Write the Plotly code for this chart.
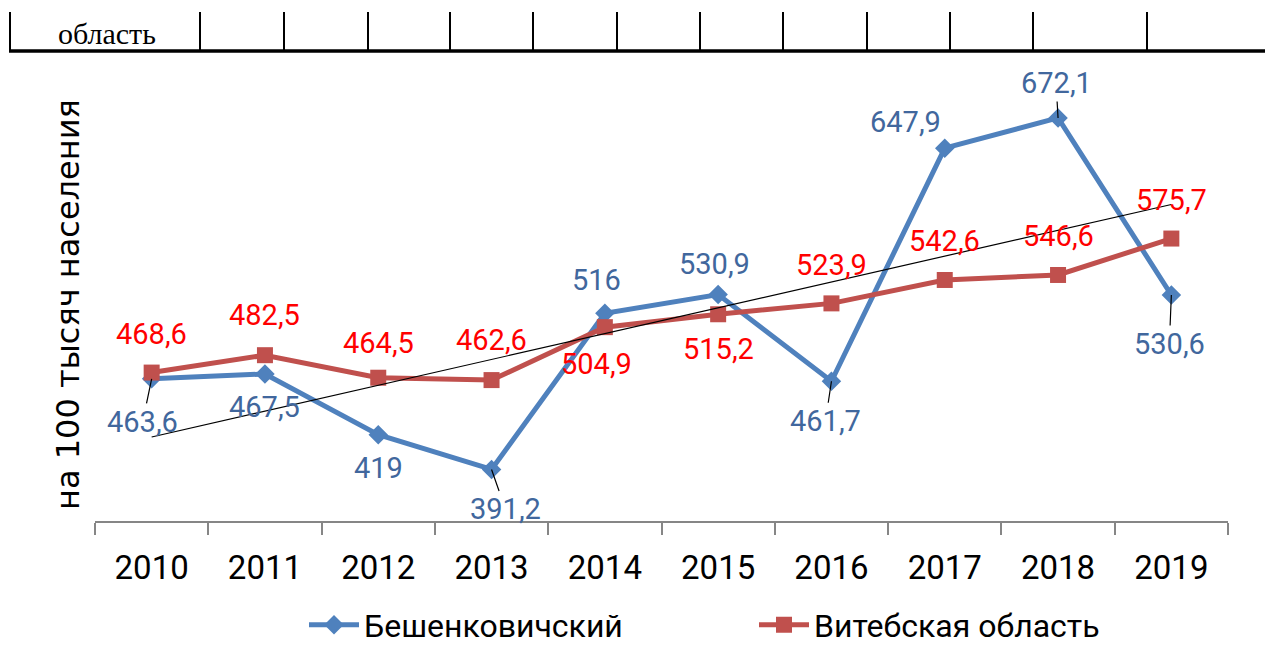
import numpy as np
import plotly.graph_objects as go

years = ["2010", "2011", "2012", "2013", "2014", "2015", "2016", "2017", "2018", "2019"]
beshenk = [463.6, 467.5, 419, 391.2, 516, 530.9, 461.7, 647.9, 672.1, 530.6]
vitebsk = [468.6, 482.5, 464.5, 462.6, 504.9, 515.2, 523.9, 542.6, 546.6, 575.7]
series_names = ["Бешенковичский", "Витебская область"]
y_title = "на 100 тысяч населения"
header_text = "область"

# page body adds an 8px offset; work in window pixels and convert
OFF = 8
W, H = 1273 - OFF, 645 - OFF
L, R, T, B = 95 - OFF, 1228 - OFF, 83 - OFF, 521 - OFF

def fmt(v):
    s = ("%.1f" % v).rstrip("0").rstrip(".")
    return s.replace(".", ",")

def px(x):  # window pixel -> paper x
    return (x - OFF - L) / (R - L)

def py(y):  # window pixel -> paper y
    return (B - (y - OFF)) / (B - T)

FONT = "Liberation Sans Narrow, Arial Narrow, Roboto, sans-serif"
BLUE = "#4F81BD"
RED = "#C0504D"
BLUE_TXT = "#41679D"
RED_TXT = "#FF0000"

fig = go.Figure()
fig.add_trace(go.Scatter(x=years, y=beshenk, name=series_names[0], mode="lines+markers",
                         line=dict(color=BLUE, width=5),
                         marker=dict(symbol="diamond", size=15, color=BLUE)))
fig.add_trace(go.Scatter(x=years, y=vitebsk, name=series_names[1], mode="lines+markers",
                         line=dict(color=RED, width=5),
                         marker=dict(symbol="square", size=16, color=RED)))

# linear trend of first series
idx = np.arange(len(years))
k, b0 = np.polyfit(idx, beshenk, 1)
fig.add_trace(go.Scatter(x=years, y=k * idx + b0, mode="lines", showlegend=False,
                         line=dict(color="black", width=1.2), hoverinfo="skip"))

# label offsets (pixels): (dx, dy) with dy downward positive, leader flag
blue_off = [(-9, 43, True), (0, 33, False), (0, 33, False), (14, 40, True), (-8, -33, False),
            (-4, -31, False), (-6, 40, True), (-39, -26, False), (-2, -35, True), (-2, 49, True)]
red_off = [(0, -39, False), (0, -40, False), (0, -35, False), (0, -40, False), (-8, 37, False),
           (0, 35, False), (0, -38, False), (0, -39, False), (0, -39, False), (0, -39, False)]

ann = []
for vals, offs, col in ((beshenk, blue_off, BLUE_TXT), (vitebsk, red_off, RED_TXT)):
    for i, (v, (dx, dy, lead)) in enumerate(zip(vals, offs)):
        if lead:
            ann.append(dict(x=i, y=v, xref="x", yref="y", text=fmt(v), showarrow=True,
                            arrowhead=0, arrowwidth=1.2,
                            arrowcolor="black", ax=dx, ay=dy, standoff=0,
                            font=dict(family=FONT, size=29, color=col)))
        else:
            ann.append(dict(x=i, y=v, xref="x", yref="y", text=fmt(v), showarrow=False,
                            xshift=dx, yshift=-dy,
                            font=dict(family=FONT, size=29, color=col)))

ann.append(dict(xref="paper", yref="paper", x=px(68), y=py(305), xanchor="center", yanchor="middle",
                text=y_title, textangle=-90, showarrow=False,
                font=dict(family="DejaVu Sans, sans-serif", size=32, color="black")))
ann.append(dict(xref="paper", yref="paper", x=px(107), y=py(33), xanchor="center", yanchor="middle",
                text=header_text, showarrow=False,
                font=dict(family="Liberation Serif, serif", size=30, color="black")))

shapes = []
for xv in [10, 200, 284, 368, 450, 533, 617, 700, 783, 867, 950, 1033, 1147]:
    shapes.append(dict(type="line", xref="paper", yref="paper", x0=px(xv), x1=px(xv),
                       y0=py(12), y1=py(51), line=dict(color="black", width=2)))
shapes.append(dict(type="line", xref="paper", yref="paper", x0=px(9), x1=px(1272),
                   y0=py(51), y1=py(51), line=dict(color="black", width=3.5)))

fig.update_layout(
    width=W, height=H,
    margin=dict(l=L, r=W - R, t=T, b=H - B, pad=0, autoexpand=False),
    paper_bgcolor="white", plot_bgcolor="white",
    showlegend=True,
    legend=dict(orientation="h", xref="container", yref="container",
                x=(304 - OFF) / W, y=1 - (625 - OFF) / H, xanchor="left", yanchor="middle",
                font=dict(family=FONT, size=32, color="black"),
                entrywidth=385, entrywidthmode="pixels", itemwidth=50),
    xaxis=dict(type="category", range=[-0.5, 9.5], showgrid=False, showline=True,
               linecolor="#868686", linewidth=2, ticks="outside", ticklen=12, tickwidth=2,
               tickcolor="#868686", tickson="boundaries", ticklabelstandoff=16, automargin=False,
               tickfont=dict(family=FONT, size=33, color="black")),
    yaxis=dict(range=[350, 700], showgrid=False, showline=False, showticklabels=False,
               ticks="", zeroline=False, automargin=False),
    annotations=ann, shapes=shapes,
)

fig.write_html("out.html")
